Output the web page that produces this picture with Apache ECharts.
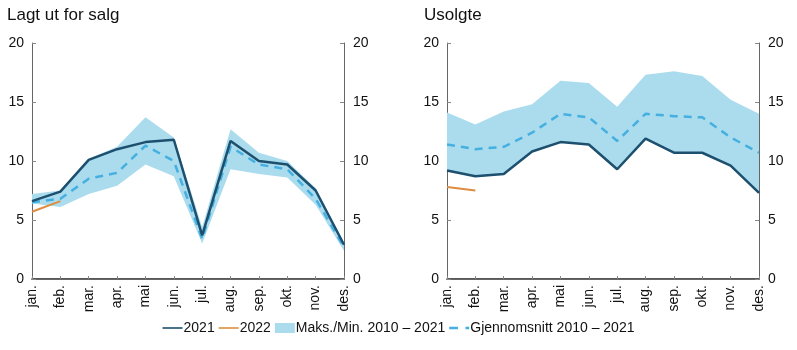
<!DOCTYPE html>
<html>
<head>
<meta charset="utf-8">
<script src="https://cdn.jsdelivr.net/npm/echarts@6/dist/echarts.min.js"></script>
<style>
  html, body { margin: 0; padding: 0; background: #fff; }
  #chart { width: 797px; height: 350px; }
</style>
</head>
<body>
<div id="chart"></div>
<script>
var months = ['jan.', 'feb.', 'mar.', 'apr.', 'mai', 'jun.', 'jul.', 'aug.', 'sep.', 'okt.', 'nov.', 'des.'];

// Lagt ut for salg
var left2021 = [6.6, 7.4, 10.1, 11.0, 11.6, 11.8, 3.7, 11.7, 10.0, 9.7, 7.5, 2.9];
var left2022 = [5.7, 6.6];
var leftAvg = [6.5, 6.8, 8.5, 9.0, 11.3, 10.0, 3.4, 11.2, 9.7, 9.3, 6.8, 2.7];
var leftMax = [7.2, 7.5, 10.2, 11.2, 13.7, 12.0, 4.4, 12.7, 10.7, 10.0, 7.7, 3.1];
var leftMin = [6.4, 6.1, 7.2, 7.9, 9.7, 8.7, 3.0, 9.3, 8.9, 8.6, 6.3, 2.4];

// Usolgte
var right2021 = [9.2, 8.7, 8.9, 10.8, 11.6, 11.4, 9.3, 11.9, 10.7, 10.7, 9.6, 7.3];
var right2022 = [7.8, 7.5];
var rightAvg = [11.4, 11.0, 11.2, 12.4, 14.0, 13.7, 11.7, 14.0, 13.8, 13.7, 12.0, 10.7];
var rightMax = [14.1, 13.1, 14.2, 14.8, 16.8, 16.6, 14.6, 17.3, 17.6, 17.2, 15.2, 14.0];
var rightMin = [9.2, 8.7, 8.9, 10.8, 11.6, 11.4, 9.3, 11.9, 10.7, 10.7, 9.6, 7.3];

var yTicks = [0, 5, 10, 15, 20];

var cDark = '#1d4f6e';
var cOrange = '#dd8d3f';
var cBand = '#abdcee';
var cAvg = '#45b0e0';
var font = 'Liberation Sans, Arial, sans-serif';

var names = {
  y21: '2021',
  y22: '2022',
  band: 'Maks./Min. 2010 \u2013 2021',
  avg: 'Gjennomsnitt 2010 \u2013 2021'
};

var chart = echarts.init(document.getElementById('chart'), null, { renderer: 'canvas' });

function diff(hi, lo) {
  return hi.map(function(v, i) { return +(v - lo[i]).toFixed(2); });
}

var grids = [
  { left: 32, right: 453, top: 43, bottom: 71 },
  { left: 447, right: 38, top: 43, bottom: 71 }
];

var xAxes = [], yAxes = [];
[0, 1].forEach(function(g) {
  xAxes.push({
    type: 'category', gridIndex: g, data: months, boundaryGap: false,
    axisLine: { lineStyle: { color: '#222', width: 1.5 } },
    axisTick: { inside: true, length: 3, lineStyle: { color: '#888' } },
    axisLabel: { rotate: 90, interval: 0, color: '#111', fontSize: 14, fontFamily: font, margin: 6 },
    splitLine: { show: false }
  });
  xAxes.push({
    type: 'category', gridIndex: g, data: months, boundaryGap: false, position: 'top',
    axisLine: { lineStyle: { color: '#666', width: 1 } },
    axisTick: { show: false }, axisLabel: { show: false }, splitLine: { show: false }
  });
  ['left', 'right'].forEach(function(pos) {
    yAxes.push({
      type: 'value', gridIndex: g, position: pos, min: 0, max: 20, interval: 5,
      axisLine: { show: true, lineStyle: { color: '#666', width: 1 } },
      axisTick: { show: true, inside: true, length: 4, lineStyle: { color: '#888' } },
      axisLabel: { color: '#111', fontSize: 14, fontFamily: font, margin: pos === 'left' ? 8 : 9 },
      splitLine: { show: false }
    });
  });
});

function panelSeries(g, s2021, s2022, avg, mx, mn) {
  var xi = g * 2, yi = g * 2;
  var stack = 'band' + g;
  return [
    {
      name: 'base' + g, type: 'line', xAxisIndex: xi, yAxisIndex: yi, data: mn,
      stack: stack, symbol: 'none', lineStyle: { width: 0, opacity: 0 }, silent: true, z: 1
    },
    {
      name: names.band, type: 'line', xAxisIndex: xi, yAxisIndex: yi, data: diff(mx, mn),
      stack: stack, symbol: 'none', lineStyle: { width: 0, opacity: 0 },
      itemStyle: { color: cBand },
      areaStyle: { color: cBand, opacity: 1 }, z: 1
    },
    {
      name: names.avg, type: 'line', xAxisIndex: xi, yAxisIndex: yi, data: avg,
      symbol: 'none', itemStyle: { color: cAvg },
      lineStyle: { color: cAvg, width: 2.5, type: [8, 6] }, z: 3
    },
    {
      name: names.y21, type: 'line', xAxisIndex: xi, yAxisIndex: yi, data: s2021,
      symbol: 'none', itemStyle: { color: cDark },
      lineStyle: { color: cDark, width: 2.5 }, z: 4
    },
    {
      name: names.y22, type: 'line', xAxisIndex: xi, yAxisIndex: yi, data: s2022,
      symbol: 'none', itemStyle: { color: cOrange },
      lineStyle: { color: cOrange, width: 2 }, z: 5
    }
  ];
}

chart.setOption({
  animation: false,
  backgroundColor: '#fff',
  title: [
    { text: 'Lagt ut for salg', left: 2, top: 2, textStyle: { fontFamily: font, fontSize: 17, fontWeight: 'normal', color: '#111' } },
    { text: 'Usolgte', left: 419, top: 2, textStyle: { fontFamily: font, fontSize: 17, fontWeight: 'normal', color: '#111' } }
  ],
  legend: {
    bottom: 10, left: 'center', itemGap: 4, itemWidth: 20, itemHeight: 10,
    textStyle: { fontFamily: font, fontSize: 14, color: '#111', padding: [0, 0, 0, -4] },
    data: [
      { name: names.y21, icon: 'path://M0,4.2H20V5.8H0Z', itemStyle: { color: cDark } },
      { name: names.y22, icon: 'path://M0,4.2H20V5.8H0Z', itemStyle: { color: cOrange } },
      { name: names.band, icon: 'rect', itemStyle: { color: cBand } },
      { name: names.avg, icon: 'path://M0,4H7V6H0ZM13,4H16V6H13Z', itemStyle: { color: cAvg } }
    ]
  },
  grid: grids,
  xAxis: xAxes,
  yAxis: yAxes,
  series: panelSeries(0, left2021, left2022, leftAvg, leftMax, leftMin)
    .concat(panelSeries(1, right2021, right2022, rightAvg, rightMax, rightMin))
});
</script>
</body>
</html>
